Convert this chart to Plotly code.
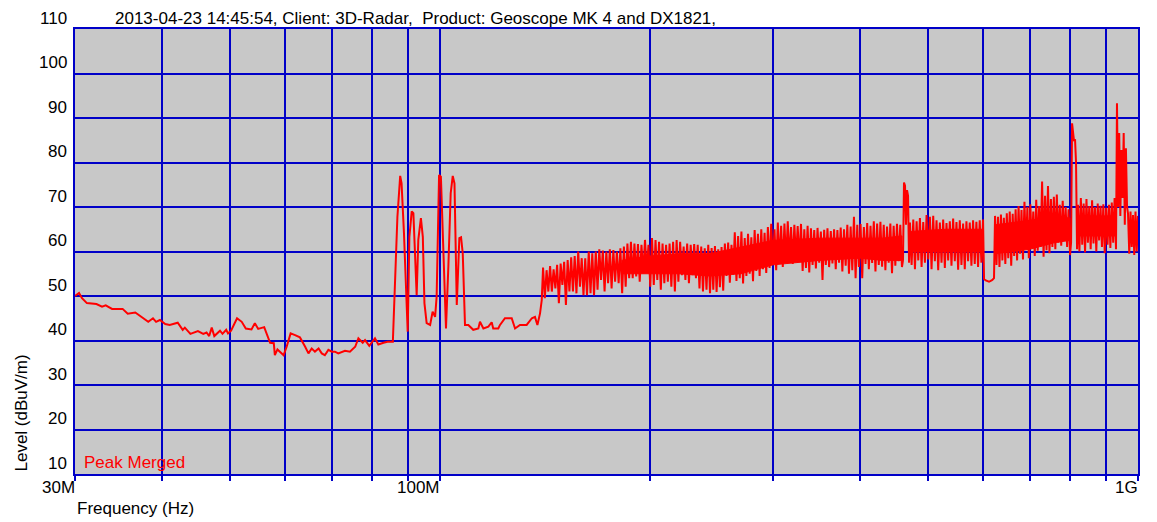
import numpy as np
import plotly.graph_objects as go

# ---------------- data (frequency in MHz, level in dBuV/m) ----------------
freq_low_mhz = [30.0, 30.4, 30.7, 31.2, 32.2, 32.8, 33.2, 33.9, 35.1, 35.7,
                36.6, 37.4, 38.2, 38.8, 39.2, 39.7, 40.4, 41.0, 42.1, 42.8,
                43.1, 43.9, 45.0, 45.8, 46.3, 46.7, 47.1, 47.5, 48.4, 48.8,
                49.4, 49.7, 50.2, 51.2, 52.0, 52.7, 53.7, 54.3, 54.9, 56.0,
                57.1, 57.8, 58.0, 58.5, 59.7, 60.3, 61.1, 62.0, 63.0, 64.1,
                64.8, 65.5, 66.2, 67.0, 67.7, 68.4, 69.2, 70.0, 70.7, 71.5,
                73.1, 74.3, 75.6, 76.4, 77.5, 78.1, 79.2, 80.7, 81.6, 83.0,
                84.1, 85.6, 86.2, 86.9, 87.7, 88.1, 88.8, 89.6, 89.9, 90.4,
                91.1, 91.6, 92.1, 92.6, 93.1, 93.9, 94.5, 95.0, 95.7, 96.8,
                97.6, 98.4, 98.9, 99.7, 100.3, 101.1, 102.0, 102.8, 103.6, 104.3,
                104.9, 105.7, 106.6, 107.2, 107.8, 108.6, 109.8, 111.6, 113.5, 114.1,
                115.4, 117.3, 118.6, 119.2, 121.2, 121.9, 123.9, 126.7, 128.1, 130.2,
                133.1, 135.4, 136.8, 137.9, 139.1, 139.9]
level_low = [50.0, 50.7, 49.5, 48.4, 48.2, 47.6, 47.9, 47.1, 47.1, 46.0,
             46.3, 45.2, 44.2, 45.0, 44.2, 44.6, 43.7, 43.5, 44.0, 42.4,
             42.9, 41.5, 42.1, 41.5, 41.8, 41.0, 42.9, 41.0, 42.2, 41.5,
             42.4, 41.6, 42.2, 45.0, 44.2, 42.7, 42.5, 43.9, 42.6, 43.0,
             39.5, 39.4, 36.7, 38.0, 36.7, 38.6, 41.6, 41.2, 40.7, 38.6,
             37.1, 38.2, 37.5, 38.2, 37.1, 36.7, 37.9, 37.5, 37.5, 37.1,
             37.7, 37.5, 38.6, 40.5, 39.5, 40.1, 38.8, 40.5, 39.1, 39.5,
             39.7, 39.7, 51.3, 67.8, 77.0, 75.3, 64.1, 45.3, 42.0, 63.3,
             69.0, 68.6, 60.3, 50.2, 62.6, 67.5, 63.3, 48.4, 43.9, 43.5,
             46.5, 45.3, 49.8, 77.2, 76.8, 60.3, 42.7, 56.6, 73.1, 77.0,
             75.3, 48.0, 63.0, 63.2, 59.6, 43.5, 43.5, 42.4, 42.7, 44.2,
             42.7, 43.1, 44.1, 42.7, 42.7, 43.5, 45.0, 45.0, 42.7, 43.5,
             43.5, 45.0, 45.3, 43.5, 46.1, 49.1]

# dense sweep sections: start / stop frequency (MHz) and the read levels
seg_start_mhz = [140.5, 245.0, 460.6, 471.3, 601.8, 624.0, 801.9, 820.5, 933.0, 967.6]
seg_stop_mhz = [243.7, 459.0, 469.9, 599.8, 621.9, 799.2, 817.8, 930.0, 964.5, 1000.0]

seg1_levels = [56.4, 49.5, 55.8, 51.0, 56.7, 51.0, 56.0, 51.7, 57.0, 48.4,
               57.3, 52.5, 57.7, 48.0, 58.1, 51.0, 58.7, 51.0, 59.0, 50.6,
               60.0, 52.1, 58.5, 50.2, 58.5, 50.2, 60.0, 50.6, 59.6, 50.2,
               60.0, 51.4, 60.5, 53.6, 60.2, 51.0, 60.0, 52.9, 60.5, 51.7,
               60.3, 53.2, 60.0, 52.9, 60.7, 50.6, 61.1, 52.1, 61.8, 54.0,
               62.2, 54.0, 61.8, 54.4, 61.7, 53.2, 61.5, 55.1, 62.6, 55.8,
               61.5, 52.1, 63.0, 52.5, 62.6, 53.6, 62.2, 51.4, 61.8, 52.9,
               61.5, 53.2, 61.8, 52.1, 62.2, 51.0, 62.6, 53.2, 62.2, 54.7,
               61.1, 53.6, 61.8, 52.9, 61.5, 54.7, 61.7, 54.0, 61.5, 51.7,
               61.1, 51.0, 60.7, 51.4, 61.5, 50.6]
seg2_levels = [60.8, 51.4, 61.2, 50.9, 60.5, 52.0, 61.0, 51.2, 61.8, 54.5,
               62.0, 53.0, 61.5, 54.8, 64.3, 53.4, 63.5, 54.0, 64.5, 52.8,
               63.0, 54.5, 64.0, 55.0, 63.2, 53.3, 64.8, 55.6, 64.0, 54.5,
               65.0, 56.0, 64.2, 55.2, 65.5, 56.3, 66.2, 57.0, 65.0, 55.8,
               66.5, 57.5, 65.8, 56.5, 66.3, 57.8, 66.8, 58.3, 65.5, 57.2,
               66.0, 58.5, 65.7, 57.8, 66.2, 55.6, 65.0, 56.3, 65.8, 55.3,
               65.2, 57.0, 64.8, 56.2, 65.3, 57.5, 64.5, 53.6, 64.9, 57.0,
               65.2, 56.5, 64.6, 57.3, 65.0, 56.0, 64.8, 57.5, 65.4, 55.5,
               65.0, 56.8, 66.0, 55.0, 65.6, 55.8, 67.8, 54.0, 66.0, 56.5,
               66.2, 54.0, 65.5, 57.2, 66.4, 56.0, 65.8, 57.4, 66.8, 55.5,
               66.3, 57.0, 66.7, 56.6, 66.0, 55.8, 65.6, 57.5, 66.3, 55.1,
               65.8, 56.8, 66.2, 57.8, 66.0, 56.5]
seg3_levels = [58.0, 75.5, 74.8, 66.0, 73.8, 72.5, 57.5]
seg4_levels = [66.5, 57.0, 67.2, 56.0, 66.8, 58.0, 67.5, 56.5, 66.6, 57.5,
               68.2, 58.2, 67.8, 56.0, 68.0, 57.8, 67.0, 55.8, 66.5, 57.5,
               67.2, 56.3, 66.4, 58.0, 66.8, 56.8, 67.4, 57.8, 66.6, 55.9,
               67.0, 57.0, 66.3, 56.0, 66.8, 57.8, 66.5, 56.8, 67.0, 57.2,
               66.7, 56.5, 67.0, 57.5, 67.2]
seg5_levels = [53.8, 53.5, 53.3, 53.2, 53.4, 53.6, 54.0]
seg6_levels = [68.0, 57.0, 67.8, 56.5, 68.3, 58.0, 67.6, 57.2, 68.6, 58.5,
               69.0, 56.8, 68.5, 59.0, 69.5, 58.0, 70.2, 59.5, 69.3, 58.2,
               71.2, 60.5, 70.0, 58.5, 70.6, 61.0, 69.0, 59.0, 71.6, 60.2,
               70.2, 61.0, 75.7, 58.8, 72.5, 60.3, 74.7, 59.6, 71.8, 61.0,
               72.3, 60.5, 72.8, 62.0, 70.5, 61.3, 71.4, 62.5, 70.0, 61.0,
               69.5, 59.2]
seg7_levels = [62.0, 88.8, 86.5, 84.8, 85.2, 80.0, 60.5]
seg8_levels = [70.5, 60.0, 72.0, 61.5, 70.8, 59.8, 71.8, 62.0, 70.2, 60.5,
               71.5, 61.8, 70.0, 60.0, 70.8, 62.5, 70.3, 61.0, 70.6, 59.6,
               69.8, 61.5, 70.5, 60.8, 71.0, 62.0, 72.0, 60.5]
seg9_levels = [93.3, 70.0, 86.6, 68.0, 82.8, 72.0, 86.6, 66.0, 83.2, 70.1]
seg10_levels = [68.5, 59.5, 69.0, 61.0, 68.2, 59.2, 69.0, 60.0, 68.0]

seg_levels = [seg1_levels, seg2_levels, seg3_levels, seg4_levels, seg5_levels,
              seg6_levels, seg7_levels, seg8_levels, seg9_levels, seg10_levels]

# solid core of the dense trace (where the sweep lines merge), per block
core_freq_mhz = [[182, 200, 220, 243, 270, 300, 350, 400, 430, 459],
                 [471, 530, 599],
                 [624, 700, 760, 799],
                 [820, 930],
                 [968, 1000]]
core_high = [[58.0, 59.0, 59.5, 59.5, 61.0, 62.5, 63.0, 63.0, 63.0, 63.5],
             [64.5, 65.0, 65.0],
             [66.0, 67.0, 68.0, 67.5],
             [68.0, 68.0],
             [66.5, 66.5]]
core_low = [[55.0, 55.0, 55.0, 54.5, 55.0, 57.0, 58.0, 58.5, 58.0, 58.0],
            [60.0, 60.0, 60.0],
            [59.5, 60.5, 62.0, 62.5],
            [63.5, 63.5],
            [62.0, 62.0]]

grid_freq_mhz = [30, 40, 50, 60, 70, 80, 90, 100, 200, 300, 400, 500,
                 600, 700, 800, 900, 1000]
x_label_freq_mhz = [30, 100, 1000]
x_label_text = ["30M", "100M", "1G"]
y_ticks = [10, 20, 30, 40, 50, 60, 70, 80, 90, 100, 110]

title_text = ("2013-04-23 14:45:54, Client: 3D-Radar,\u00a0 Product: "
              "Geoscope MK 4 and DX1821,")

# ---------------- build traces ----------------
freqs = list(freq_low_mhz)
levels = list(level_low)
for f0, f1, lv in zip(seg_start_mhz, seg_stop_mhz, seg_levels):
    freqs.extend(np.geomspace(f0, f1, len(lv)).tolist())
    levels.extend(lv)

band_x, band_y = [], []
for fx, hi, lo in zip(core_freq_mhz, core_high, core_low):
    band_x += list(fx) + list(fx)[::-1] + [None]
    band_y += list(hi) + list(lo)[::-1] + [None]

RED = "#ff0000"
BLUE = "#0000c8"
FONT = "Liberation Sans, Arial, sans-serif"

fig = go.Figure()
fig.add_trace(go.Scatter(x=band_x, y=band_y, mode="lines", fill="toself",
                         fillcolor=RED, line=dict(color=RED, width=1),
                         hoverinfo="skip", showlegend=False))
fig.add_trace(go.Scatter(x=freqs, y=levels, mode="lines",
                         line=dict(color=RED, width=2),
                         name="Peak Merged", hoverinfo="x+y"))

fig.update_layout(
    width=1157, height=522,
    margin=dict(l=75, r=19, t=29, b=48, pad=0),
    paper_bgcolor="white", plot_bgcolor="#c8c8c8",
    showlegend=False,
    font=dict(family=FONT, size=17, color="black"),
)
fig.update_xaxes(type="log", range=[np.log10(30), np.log10(1000)],
                 tickvals=grid_freq_mhz, ticktext=[""] * len(grid_freq_mhz),
                 showgrid=True, gridcolor=BLUE, gridwidth=2,
                 ticks="outside", ticklen=5, tickcolor=BLUE, tickwidth=2,
                 showline=True, linecolor=BLUE, linewidth=2, mirror=True,
                 zeroline=False)
fig.update_yaxes(range=[10, 110], tickvals=y_ticks, showticklabels=False,
                 showgrid=True, gridcolor=BLUE, gridwidth=2, ticks="",
                 showline=True, linecolor=BLUE, linewidth=2, mirror=True,
                 zeroline=False)

ann = []
for v in y_ticks:
    ann.append(dict(xref="paper", x=0, xanchor="right", xshift=-6,
                    yref="y", y=v, yanchor="middle", yshift=11,
                    text=str(v), showarrow=False))
for v, t in zip(x_label_freq_mhz, x_label_text):
    ann.append(dict(xref="x", x=np.log10(v), xanchor="right", xshift=2,
                    yref="paper", y=0, yanchor="top", yshift=-2,
                    text=t, showarrow=False))
ann.append(dict(xref="paper", x=0, xanchor="left", xshift=0,
                yref="paper", y=0, yanchor="top", yshift=-23,
                text="Frequency (Hz)", showarrow=False))
ann.append(dict(xref="paper", x=0, xanchor="center", xshift=-54,
                yref="paper", y=0, yanchor="bottom", yshift=0,
                text="Level (dBuV/m)", textangle=-90, showarrow=False))
ann.append(dict(xref="paper", x=0, xanchor="left", xshift=38,
                yref="paper", y=1, yanchor="middle", yshift=11,
                text=title_text, showarrow=False))
ann.append(dict(xref="paper", x=0, xanchor="left", xshift=7,
                yref="paper", y=0, yanchor="middle", yshift=12,
                text="Peak Merged", font=dict(color=RED, size=17),
                showarrow=False))
fig.update_layout(annotations=ann)

fig.write_html("out.html", config={"displayModeBar": False},
               post_script="document.body.style.margin='0';")
